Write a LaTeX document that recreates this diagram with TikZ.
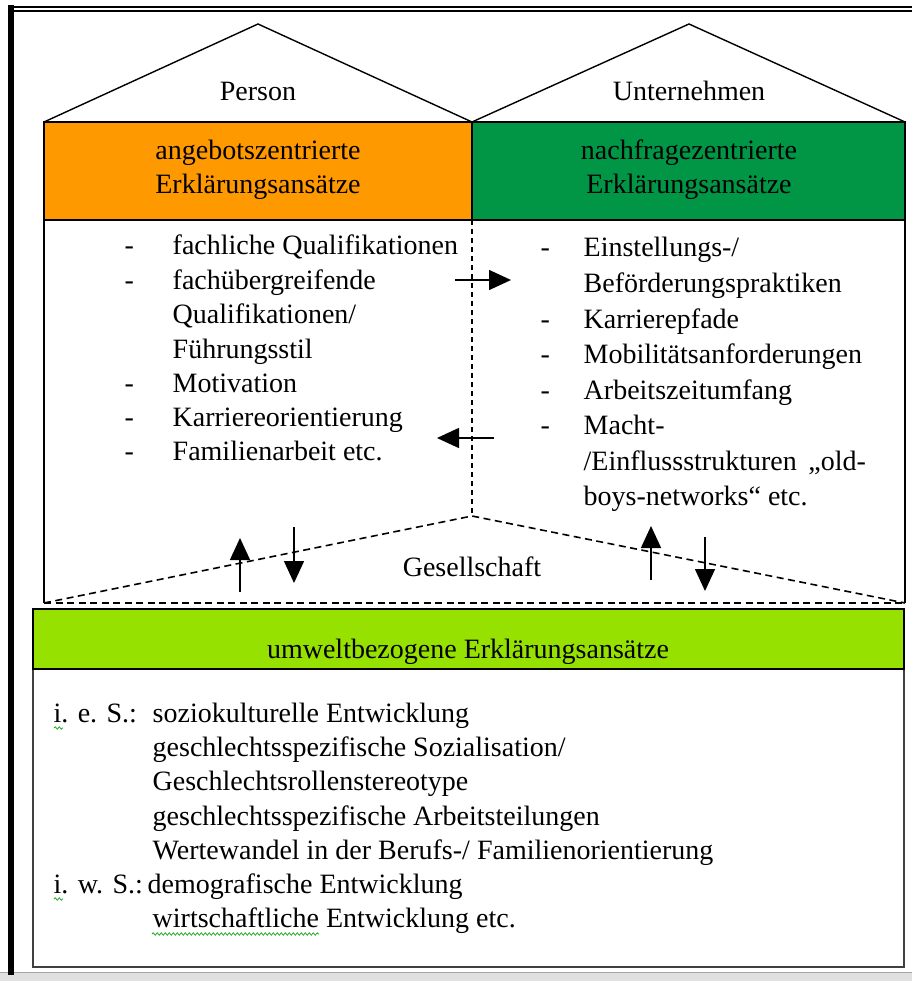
\documentclass[tikz,border=0pt]{standalone}
\usepackage{fontspec}
\setmainfont{Liberation Serif}
\usetikzlibrary{arrows.meta,decorations.pathmorphing}
\definecolor{orangeA}{RGB}{255,153,0}
\definecolor{greenA}{RGB}{0,150,70}
\definecolor{limeA}{RGB}{150,225,0}
\definecolor{spellA}{RGB}{40,170,40}
\begin{document}
\begin{tikzpicture}[x=1pt,y=-1pt,line width=1.4pt,
  txt/.style={font=\fontsize{28}{34}\selectfont,inner sep=0pt,anchor=base},
  ltxt/.style={txt,anchor=base west},
  dashln/.style={line width=1.6pt,dash pattern=on 7pt off 4.5pt},
  arr/.style={line width=1.5pt,-{Triangle[length=22pt,width=20pt]}},
  squig/.style={spellA,line width=0.8pt,decorate,decoration={snake,amplitude=1.2pt,segment length=4pt}}]
\useasboundingbox (0,0) rectangle (912,981);
\fill[white] (0,0) rectangle (912,981);
% outer frame
\fill[black!12] (0,972) rectangle (912,981);
\draw[black!35,line width=1pt] (0,972.5) -- (912,972.5);
\fill[black] (8,5) rectangle (14,975);
\draw[line width=2pt] (8,7.5) -- (912,7.5);
\draw[line width=2pt] (8,11.5) -- (912,11.5);
% roofs
\coordinate (pL) at (44,122);
\coordinate (aL) at (258,24);
\coordinate (m) at (472,122);
\coordinate (aR) at (689,24);
\coordinate (pR) at (905,122);
\draw (pL) -- (aL) -- (m) -- (aR) -- (pR);
\node[txt] (person) at (258,101) {Person};
\node[txt] (unt) at (689,101) {Unternehmen};
% header boxes
\draw[fill=orangeA] (44,122) rectangle (472,220);
\draw[fill=greenA] (472,122) rectangle (905,220);
\node[txt] (h1a) at (258,160) {angebotszentrierte};
\node[txt] (h1b) at (258,194) {Erklärungsansätze};
\node[txt] (h2a) at (689,160) {nachfragezentrierte};
\node[txt] (h2b) at (689,194) {Erklärungsansätze};
% upper body
\draw (44,220) -- (44,603);
\draw (905,220) -- (905,603);
\coordinate (gL) at (44,603);
\coordinate (gA) at (472,516);
\coordinate (gR) at (905,603);
\coordinate (cT) at (472,220);
\draw[dashln] (gL) -- (gR);
\draw[dashln] (gL) -- (gA) -- (gR);
\draw[dashln,dash pattern=on 5pt off 4pt] (cT) -- (gA);
% left list
\node[ltxt] (ld1) at (124,255) {-};
\node[ltxt] (l1) at (172,255) {fachliche Qualifikationen};
\node[ltxt] (ld2) at (124,289) {-};
\node[ltxt] (l2) at (172,289) {fachübergreifende};
\node[ltxt] (l3) at (172,323) {Qualifikationen/};
\node[ltxt] (l4) at (172,358) {Führungsstil};
\node[ltxt] (ld5) at (124,392) {-};
\node[ltxt] (l5) at (172,392) {Motivation};
\node[ltxt] (ld6) at (124,426) {-};
\node[ltxt] (l6) at (172,426) {Karriereorientierung};
\node[ltxt] (ld7) at (124,460) {-};
\node[ltxt] (l7) at (172,460) {Familienarbeit etc.};
% right list
\node[ltxt] (rd1) at (540,257) {-};
\node[ltxt] (r1) at (583,257) {Einstellungs-/};
\node[ltxt] (r2) at (583,292.5) {Beförderungspraktiken};
\node[ltxt] (rd3) at (540,328) {-};
\node[ltxt] (r3) at (583,328) {Karrierepfade};
\node[ltxt] (rd4) at (540,363.5) {-};
\node[ltxt] (r4) at (583,363.5) {Mobilitätsanforderungen};
\node[ltxt] (rd5) at (540,399) {-};
\node[ltxt] (r5) at (583,399) {Arbeitszeitumfang};
\node[ltxt] (rd6) at (540,434.5) {-};
\node[ltxt] (r6) at (583,434.5) {Macht-};
\node[ltxt] (r7) at (583,470) {/Einflussstrukturen \,„old-};
\node[ltxt] (r8) at (583,505.5) {boys-networks“ etc.};
% horizontal arrows
\coordinate (ha1) at (455,280);
\coordinate (hb1) at (511,280);
\coordinate (ha2) at (494,438);
\coordinate (hb2) at (437,438);
\draw[arr] (ha1) -- (hb1);
\draw[arr] (ha2) -- (hb2);
% Gesellschaft
\node[txt] (ges) at (472,576) {Gesellschaft};
\coordinate (v1a) at (240,592);
\coordinate (v1b) at (240,538);
\coordinate (v2a) at (294,527);
\coordinate (v2b) at (294,583);
\coordinate (v3a) at (651,580);
\coordinate (v3b) at (651,526);
\coordinate (v4a) at (705,537);
\coordinate (v4b) at (705,591);
\draw[arr] (v1a) -- (v1b);
\draw[arr] (v2a) -- (v2b);
\draw[arr] (v3a) -- (v3b);
\draw[arr] (v4a) -- (v4b);
% bottom box
\draw[black!75,line width=1.8pt] (33,609) rectangle (904,967);
\draw[fill=limeA] (33,609) rectangle (904,669);
\node[txt] (umw) at (468,658) {umweltbezogene Erklärungsansätze};
\node[ltxt] (ies) at (53,722) {i. e. S.:};
\node[ltxt] (b1) at (152,722) {soziokulturelle Entwicklung};
\node[ltxt] (b2) at (152,756) {geschlechtsspezifische Sozialisation/};
\node[ltxt] (b3) at (152,790) {Geschlechtsrollenstereotype};
\node[ltxt] (b4) at (152,825) {geschlechtsspezifische Arbeitsteilungen};
\node[ltxt] (b5) at (152,859) {Wertewandel in der Berufs-/ Familienorientierung};
\node[ltxt] (iws) at (53,893) {i. w. S.:};
\node[ltxt] (b6) at (147,893) {demografische Entwicklung};
\node[ltxt] (b7) at (152,927) {wirtschaftliche Entwicklung etc.};
\draw[squig] (54,728) -- (63,728);
\draw[squig] (54,899) -- (63,899);
\draw[squig] (152,934) -- (319,934);
\end{tikzpicture}
\end{document}
